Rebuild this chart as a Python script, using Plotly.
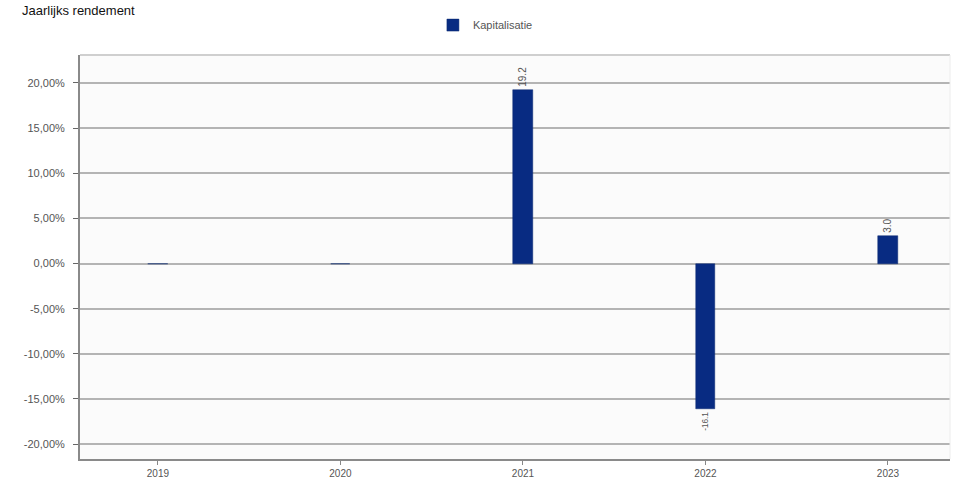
import plotly.graph_objects as go

# Annual return per year (percent)
years = [2019, 2020, 2021, 2022, 2023]
returns = [0.0, 0.0, 19.2, -16.1, 3.0]
series_name = "Kapitalisatie"
title_text = "Jaarlijks rendement"

y_ticks = [20, 15, 10, 5, 0, -5, -10, -15, -20]
y_tick_labels = ["20,00%", "15,00%", "10,00%", "5,00%", "0,00%",
                 "-5,00%", "-10,00%", "-15,00%", "-20,00%"]
x_tick_labels = ["2019", "2020", "2021", "2022", "2023"]

bar_labels = [f"{v:.1f}" if v != 0 else "" for v in returns]

fig = go.Figure()
fig.add_trace(go.Bar(
    x=years,
    y=returns,
    width=0.105,
    name=series_name,
    marker=dict(color="#082b82", line=dict(color="#0a2a70", width=0.5)),
    text=bar_labels,
    textposition="outside",
    textangle=-90,
    textfont=dict(size=10, color="#555555", family="Liberation Sans, Arial, sans-serif"),
    cliponaxis=False,
    showlegend=True,
))

fig.update_layout(
    width=957,
    height=489,
    margin=dict(l=80, r=7, t=55, b=30),
    paper_bgcolor="white",
    plot_bgcolor="#fbfbfb",
    font=dict(family="Liberation Sans, Arial, sans-serif", size=11, color="#444444"),
    showlegend=True,
    legend=dict(
        orientation="h",
        x=0.466, xanchor="center",
        y=1.074, yanchor="middle",
        font=dict(size=11, color="#555555"),
        bgcolor="rgba(0,0,0,0)",
    ),
    bargap=0,
    xaxis=dict(
        range=[2018.573, 2023.34],
        tickvals=years,
        ticktext=x_tick_labels,
        ticks="outside",
        ticklen=4,
        tickcolor="#888888",
        showgrid=False,
        zeroline=False,
        showline=True,
        linecolor="#8a8a8a",
        linewidth=2,
        tickfont=dict(size=10, color="#555555"),
        fixedrange=True,
    ),
    yaxis=dict(
        range=[-21.65, 23.1],
        tickvals=y_ticks,
        ticktext=y_tick_labels,
        ticks="outside",
        ticklen=5,
        tickcolor="#666666",
        ticklabelstandoff=6,
        showgrid=True,
        gridcolor="#b4b4b4",
        gridwidth=1.5,
        zeroline=False,
        showline=True,
        linecolor="#8a8a8a",
        linewidth=2,
        tickfont=dict(size=11, color="#555555"),
        fixedrange=True,
    ),
    annotations=[dict(
        text=title_text,
        xref="paper", yref="paper",
        x=-0.069, y=1.134,
        xanchor="left", yanchor="top",
        showarrow=False,
        font=dict(size=13, color="#111111"),
    )],
    shapes=[
        # frame top and right edges
        dict(type="line", xref="paper", yref="paper", x0=0, x1=1, y0=1, y1=1,
             line=dict(color="#cfcfcf", width=2)),
        dict(type="line", xref="paper", yref="paper", x0=1, x1=1, y0=0, y1=1,
             line=dict(color="#ececec", width=1)),
    ],
)

fig.write_html("out.html")
